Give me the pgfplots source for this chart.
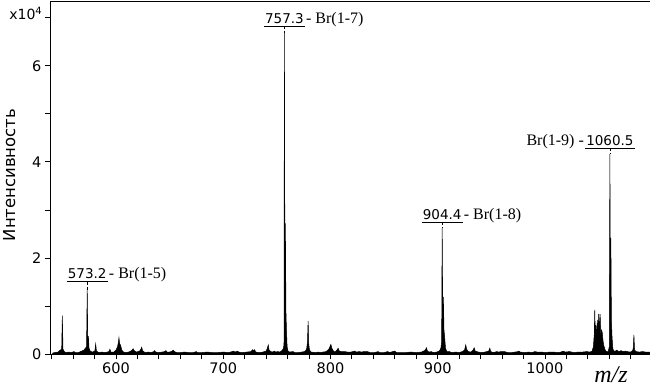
\documentclass[border=0pt]{standalone}
\usepackage{pgfplots}
\pgfplotsset{compat=1.18}
\usepackage{fontspec}
\setmainfont{Liberation Serif}
\newfontfamily\dv{DejaVu Sans}
\begin{document}
\begin{tikzpicture}
\begin{axis}[
  scale only axis, width=600pt, height=353pt,
  xmin=538.5, xmax=1098, ymin=0, ymax=7.35,
  axis x line*=box, axis y line*=left,
  xtick pos=left, ytick pos=left,
  tick align=outside,
  xtick={600,700,800,900,1000},
  minor xtick={540,560,580,620,640,660,680,720,740,760,780,820,840,860,880,920,940,960,980,1020,1040,1060,1080},
  ytick={0,2,4,6}, minor ytick={1,3,5,7},
  major tick length=5pt, minor tick length=5pt,
  tick style={black, line width=0.8pt},
  axis line style={black, line width=0.9pt},
  /pgf/number format/assume math mode=true,
  ticklabel style={font=\dv\fontsize{14.5}{16}\selectfont},
  yticklabel style={/pgf/number format/fixed},
  xticklabel style={/pgf/number format/set thousands separator={}},
  ylabel={Интенсивность},
  ylabel style={font=\dv\fontsize{16.5}{18}\selectfont, at={(axis description cs:-0.068,0.507)}, anchor=center},
  clip mode=individual,
]
\addplot[black, line width=0.5pt, fill=black] table {
x y
541 0.02
543 0.03
546 0.04
548 0.08
549.4 0.10
550.0 0.80
550.6 0.10
551.5 0.06
553 0.03
556 0.04
558 0.03
561 0.05
562 0.03
565 0.03
568 0.06
570 0.08
571.5 0.12
572.6 0.15
573.2 1.33
573.8 0.2
574.3 0.37
574.9 0.12
576 0.06
578 0.04
580.3 0.06
581.1 0.21
581.8 0.06
584 0.03
587 0.04
590 0.03
593.5 0.05
594.4 0.10
595.3 0.04
598 0.04
600 0.08
601.5 0.15
602.3 0.25
602.8 0.34
603.4 0.22
604.3 0.18
605.5 0.08
607 0.04
610 0.03
613 0.05
615 0.08
616 0.11
617 0.07
619 0.04
622 0.06
623.3 0.10
624 0.14
624.8 0.07
627 0.03
630 0.04
633 0.03
635.3 0.05
636 0.07
637 0.04
640 0.03
643 0.04
645.5 0.05
646.6 0.07
647.6 0.04
650 0.04
652.4 0.06
653.4 0.08
654.4 0.05
657 0.03
660 0.03
664 0.04
668 0.03
672 0.03
675 0.05
676 0.03
680 0.03
685 0.04
690 0.03
695 0.03
700 0.04
705 0.03
708.5 0.05
709.5 0.06
711 0.04
713.5 0.06
714.5 0.04
718 0.03
722 0.04
726 0.05
727.3 0.09
728.3 0.07
729.3 0.09
730.3 0.04
734 0.03
737 0.04
740 0.06
741.2 0.12
742 0.19
742.8 0.08
744.5 0.05
746 0.04
748 0.06
749 0.04
751 0.05
753 0.04
755.2 0.08
756.2 0.12
756.7 0.2
757.1 6.68
757.6 0.8
758.0 2.72
758.5 0.9
759 0.5
759.6 0.15
760.5 0.06
762 0.04
765 0.05
767 0.03
770 0.03
773 0.04
776 0.05
777.8 0.1
778.6 0.25
779.2 0.69
779.8 0.2
780.5 0.08
782 0.04
786 0.03
789 0.04
790 0.03
793 0.04
796 0.05
798.5 0.1
799.5 0.15
800.4 0.20
801.3 0.12
802.5 0.07
804 0.04
806 0.08
807.2 0.12
808.3 0.06
810 0.05
813.4 0.05
816 0.04
819 0.04
822.7 0.06
824 0.04
827 0.05
829 0.04
831 0.05
834.5 0.05
837 0.03
841 0.03
844.5 0.05
846 0.03
850 0.03
853.5 0.05
855 0.03
858 0.05
860 0.06
861.5 0.03
865 0.03
870 0.03
875 0.04
880 0.03
885 0.04
888.5 0.08
889.5 0.13
890.5 0.06
892 0.04
894 0.05
896 0.03
899 0.04
901.5 0.06
903.0 0.12
903.7 0.25
904.2 2.62
904.8 0.6
905.3 1.19
905.9 0.5
906.5 0.35
907.3 0.12
908.5 0.05
911 0.05
913 0.03
917 0.04
920 0.03
923 0.05
925 0.08
926.2 0.19
927 0.10
928.5 0.05
931 0.04
933 0.08
934 0.13
935 0.06
938 0.04
941 0.03
944 0.04
947.6 0.06
948.6 0.12
949.5 0.05
952 0.03
955 0.05
957 0.04
959 0.05
962.5 0.05
965 0.03
969 0.03
972 0.04
975 0.05
975.8 0.06
977 0.04
981 0.03
985 0.04
988 0.03
990.5 0.05
993 0.04
997 0.04
1001 0.03
1004 0.04
1008 0.04
1012 0.03
1015 0.04
1017 0.06
1019 0.04
1023 0.05
1027 0.03
1031 0.04
1035 0.04
1039 0.05
1042 0.04
1044 0.06
1045.2 0.15
1046.0 0.40
1046.5 0.92
1047.0 0.35
1047.6 0.60
1048.2 0.30
1048.9 0.71
1049.5 0.40
1050.2 0.83
1050.8 0.45
1051.5 0.83
1052.1 0.40
1052.8 0.50
1053.5 0.44
1054.3 0.25
1055.2 0.15
1056.3 0.08
1057.5 0.05
1059 0.05
1060.0 0.15
1060.6 4.16
1061.1 0.8
1061.5 2.42
1062.0 0.7
1062.6 0.35
1063.4 0.1
1065 0.05
1067 0.08
1069 0.05
1071 0.07
1073 0.05
1075 0.06
1077 0.05
1079 0.04
1081 0.05
1082.3 0.10
1083.0 0.40
1083.6 0.08
1085 0.05
1088 0.04
1091 0.05
1094 0.04
1098 0.04
} \closedcycle;

% peak annotations
\node[font=\dv\fontsize{13.5}{16}\selectfont, inner xsep=1pt, inner ysep=2.5pt, anchor=south] (p1) at (axis cs:573.2,1.506) {573.2};
\draw[line width=0.7pt] (p1.south west) -- (p1.south east);
\draw[line width=0.4pt, densely dashed] (p1.south) -- (axis cs:573.2,1.33);
\node[font=\fontsize{16}{18}\selectfont, inner sep=0pt, anchor=base west] at ([xshift=1pt]p1.base east) {- Br(1-5)};

\node[font=\dv\fontsize{13.5}{16}\selectfont, inner xsep=1pt, inner ysep=2.5pt, anchor=south] (p2) at (axis cs:757.1,6.82) {757.3};
\draw[line width=0.7pt] (p2.south west) -- (p2.south east);
\draw[line width=0.4pt, densely dashed] (p2.south) -- (axis cs:757.1,6.68);
\node[font=\fontsize{16}{18}\selectfont, inner sep=0pt, anchor=base west] at ([xshift=1pt]p2.base east) {- Br(1-7)};

\node[font=\dv\fontsize{13.5}{16}\selectfont, inner xsep=1pt, inner ysep=2.5pt, anchor=south] (p3) at (axis cs:904.2,2.744) {904.4};
\draw[line width=0.7pt] (p3.south west) -- (p3.south east);
\draw[line width=0.4pt, densely dashed] (p3.south) -- (axis cs:904.2,2.62);
\node[font=\fontsize{16}{18}\selectfont, inner sep=0pt, anchor=base west] at ([xshift=1pt]p3.base east) {- Br(1-8)};

\node[font=\dv\fontsize{13.5}{16}\selectfont, inner xsep=1pt, inner ysep=2.5pt, anchor=south] (p4) at (axis cs:1060.6,4.285) {1060.5};
\draw[line width=0.7pt] (p4.south west) -- (p4.south east);
\draw[line width=0.4pt, densely dashed] (p4.south) -- (axis cs:1060.6,4.16);
\node[font=\fontsize{16}{18}\selectfont, inner sep=0pt, anchor=base east] at ([xshift=-1pt]p4.base west) {Br(1-9) -};

% multiplier and axis title
\node[font=\dv\fontsize{14}{16}\selectfont, inner sep=0pt, anchor=base east] at ([xshift=-8pt,yshift=-19pt]rel axis cs:0,1) {x10\raisebox{0.75ex}{\fontsize{10}{12}\selectfont 4}};
\node[font=\itshape\fontsize{24}{26}\selectfont, inner sep=0pt, anchor=base] at (axis description cs:0.935,-0.082) {m/z};
\end{axis}
\pgfresetboundingbox
\path ([xshift=-50pt,yshift=-34pt]current axis.south west) rectangle ([yshift=1pt]current axis.north east);
\end{tikzpicture}
\end{document}
